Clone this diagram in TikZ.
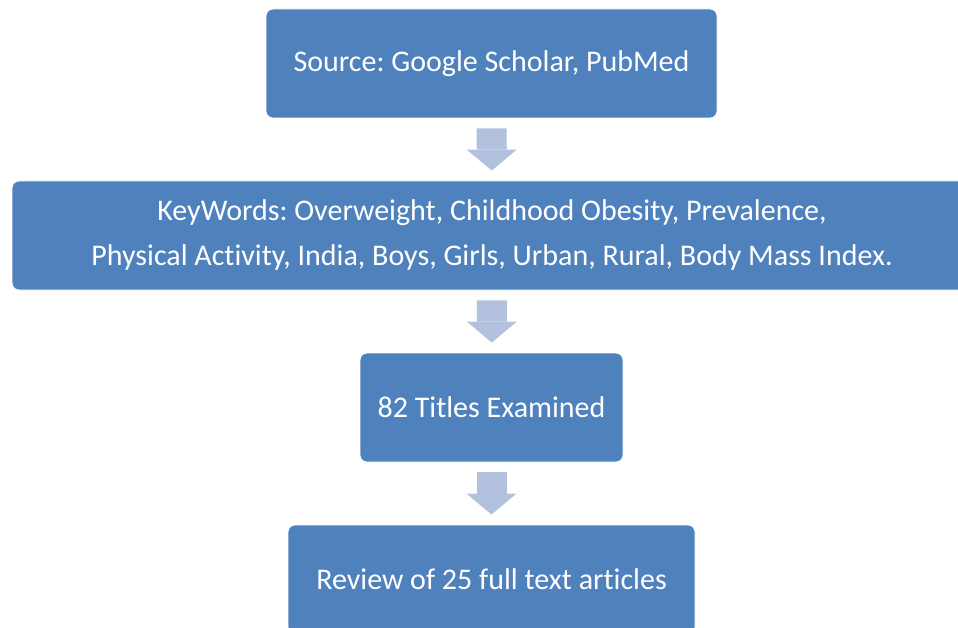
\documentclass[tikz,border=0pt]{standalone}
\usepackage{fontspec}
\setmainfont[Ligatures=NoCommon]{Carlito}
\usetikzlibrary{arrows.meta,positioning}
\definecolor{boxblue}{HTML}{4F81BD}
\definecolor{arrowblue}{HTML}{B2C1DE}
\frenchspacing

\begin{document}
\begin{tikzpicture}[x=1pt,y=1pt,
    every node/.style={inner sep=0pt},
    stage/.style={fill=boxblue, draw=white, line width=0.8pt, rounded corners=7pt,
                  text=white, font=\fontsize{30}{45}\selectfont, align=center,
                  minimum height=109pt},
    flow/.style={draw=arrowblue, line width=30pt, shorten <=10pt, shorten >=10pt,
                 -{Triangle[width=50pt,length=21pt,line width=0pt]}}]
    \clip (0,0) rectangle (958,-628);
    \useasboundingbox (0,0) rectangle (958,-628);

    % the four stages of the search
    \node [stage, minimum width=451pt] (source) at (491.5,-63.5) {Source: Google Scholar, PubMed};
    \node [stage, minimum width=960pt] (keywords) at (492,-235.5)
        {KeyWords: Overweight, Childhood Obesity, Prevalence,\\
         Physical Activity, India, Boys, Girls, Urban, Rural, Body Mass Index.};
    \node [stage, minimum width=263pt] (titles) at (491.5,-407.5) {82 Titles Examined};
    \node [stage, minimum width=407pt] (review) at (491.5,-579.5) {Review of 25 full text articles};

    % block arrows between them
    \draw [flow] (source) -- (keywords);
    \draw [flow] (keywords) -- (titles);
    \draw [flow] (titles) -- (review);
\end{tikzpicture}
\end{document}
